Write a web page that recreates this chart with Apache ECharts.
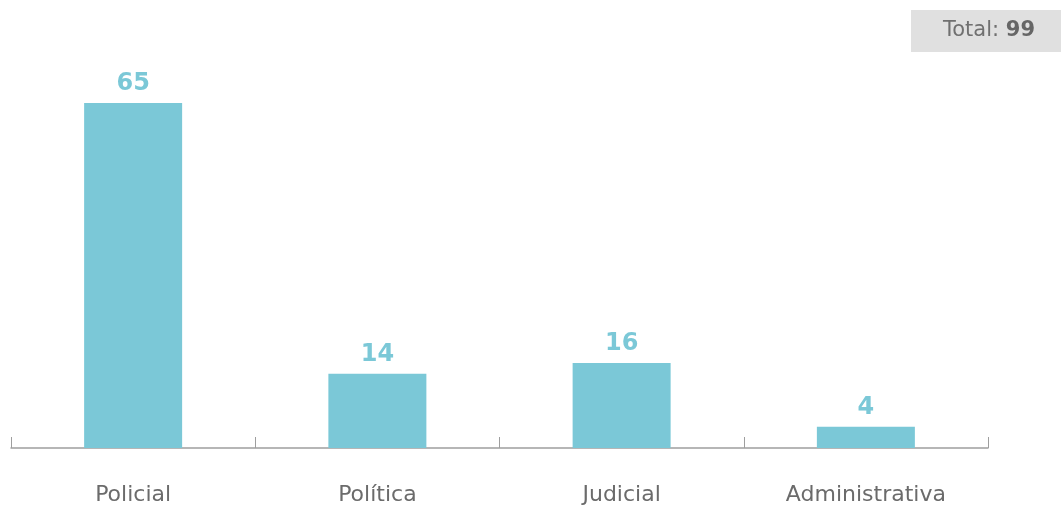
<!DOCTYPE html>
<html>
<head>
<meta charset="utf-8">
<script src="https://cdn.jsdelivr.net/npm/echarts@6/dist/echarts.min.js"></script>
<style>
  html, body { margin: 0; padding: 0; background: #fff; }
  #chart { width: 1061px; height: 506px; }
</style>
</head>
<body>
<div id="chart"></div>
<script>
const categories = ['Policial', 'Política', 'Judicial', 'Administrativa'];
const values = [65, 14, 16, 4];
const total = 99;

const myChart = echarts.init(document.getElementById('chart'));
myChart.setOption({
  animation: false,
  textStyle: { fontFamily: 'DejaVu Sans' },
  grid: { left: 11, right: 73, top: 23.4, bottom: 58 },
  graphic: [
    {
      type: 'rect',
      right: 0, top: 10,
      shape: { width: 150, height: 42 },
      style: { fill: '#e0e0e0' }
    },
    {
      type: 'text',
      right: 26, top: 20,
      style: {
        rich: {
          a: { fontSize: 21, fill: '#707070', fontFamily: 'DejaVu Sans' },
          b: { fontSize: 21, fill: '#666', fontWeight: 'bold', fontFamily: 'DejaVu Sans' }
        },
        text: '{a|Total: }{b|' + total + '}'
      }
    }
  ],
  xAxis: {
    type: 'category',
    data: categories,
    axisLine: { lineStyle: { color: '#9e9e9e', width: 1.5 } },
    axisTick: { show: true, inside: true, length: 11, lineStyle: { color: '#9e9e9e' } },
    axisLabel: { color: '#6b6b6b', fontSize: 22, margin: 36 }
  },
  yAxis: {
    type: 'value',
    min: 0, max: 80,
    show: false,
    splitLine: { show: false }
  },
  series: [{
    type: 'bar',
    data: values,
    barWidth: 98,
    itemStyle: { color: '#7bc8d7' },
    label: {
      show: true,
      position: 'top',
      distance: 7,
      color: '#7bc8d7',
      fontSize: 24,
      fontWeight: 'bold'
    }
  }]
});
</script>
</body>
</html>
